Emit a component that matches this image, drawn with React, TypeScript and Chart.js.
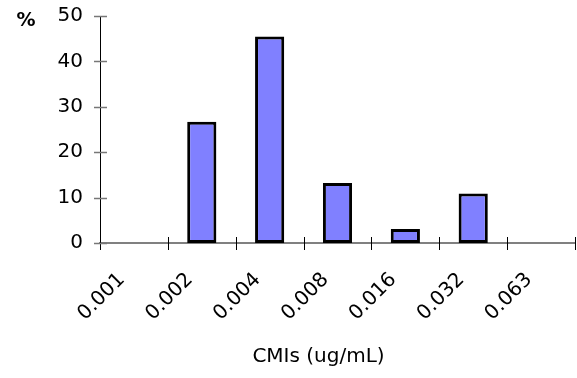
import React, { useEffect, useRef } from "react";
import { Chart, registerables } from "chart.js";

Chart.register(...registerables);

const categories = ["0.001", "0.002", "0.004", "0.008", "0.016", "0.032", "0.063"];
const percentValues = [0, 26.7, 45.5, 13.2, 3.1, 10.9, 0];
const yTicks = [0, 10, 20, 30, 40, 50];
const xTitle = "CMIs (ug/mL)";
const yUnit = "%";

const FONT = "'DejaVu Sans', sans-serif";

const crossTicks = {
  id: "crossTicks",
  afterDatasetsDraw(chart: any) {
    const { ctx, chartArea, scales } = chart;
    const x = scales.x;
    const y = scales.y;
    ctx.save();
    // x ticks at category boundaries
    ctx.strokeStyle = "#000";
    ctx.lineWidth = 1;
    for (let i = 0; i <= categories.length; i++) {
      const px = Math.round(x.getPixelForValue(i - 0.5)) + 0.5;
      ctx.beginPath();
      ctx.moveTo(px, chartArea.bottom - 6);
      ctx.lineTo(px, chartArea.bottom + 7);
      ctx.stroke();
    }
    // y ticks
    ctx.strokeStyle = "#777";
    ctx.lineWidth = 1.5;
    for (const v of yTicks) {
      const py = Math.round(y.getPixelForValue(v)) + 0.5;
      ctx.beginPath();
      ctx.moveTo(chartArea.left - 6, py);
      ctx.lineTo(chartArea.left + 7, py);
      ctx.stroke();
    }
    // unit label
    ctx.fillStyle = "#000";
    ctx.font = "bold 19px " + FONT;
    ctx.textAlign = "center";
    ctx.textBaseline = "middle";
    ctx.fillText(yUnit, chartArea.left - 74, y.getPixelForValue(50) + 5);
    // axis title
    ctx.font = "20px " + FONT;
    ctx.fillText(xTitle, chartArea.left + (chartArea.right - chartArea.left) * 0.46, 357);
    ctx.restore();
  },
};

export default function App() {
  const ref = useRef<HTMLCanvasElement | null>(null);
  useEffect(() => {
    if (!ref.current) return;
    const chart = new Chart(ref.current, {
      type: "bar",
      data: {
        labels: categories,
        datasets: [
          {
            data: percentValues,
            backgroundColor: "#8080FF",
            borderColor: "#000000",
            borderWidth: 3,
            borderSkipped: false,
            barPercentage: 0.43,
            categoryPercentage: 1,
          },
        ],
      },
      options: {
        responsive: true,
        maintainAspectRatio: false,
        animation: false,
        layout: { padding: { left: 0, top: 16, right: 2, bottom: 0 } },
        plugins: { legend: { display: false }, tooltip: { enabled: false } },
        scales: {
          x: {
            offset: true,
            grid: { display: false, drawTicks: false },
            border: { display: true, color: "#808080", width: 2 },
            ticks: {
              color: "#000",
              font: { family: FONT, size: 20 },
              minRotation: 45,
              maxRotation: 45,
              padding: 25,
              labelOffset: -12,
              autoSkip: false,
            },
            afterFit(s: any) {
              s.height = 135;
              s.paddingLeft = 0;
              s.paddingRight = 0;
            },
          },
          y: {
            min: 0,
            max: 50,
            grid: { display: false, drawTicks: false },
            border: { display: true, color: "#000", width: 1 },
            ticks: {
              stepSize: 10,
              color: "#000",
              font: { family: FONT, size: 20 },
              padding: 17,
            },
            afterFit(s: any) {
              s.width = 100;
              s.paddingTop = 0;
              s.paddingBottom = 0;
            },
          },
        },
      },
      plugins: [crossTicks],
    });
    return () => chart.destroy();
  }, []);
  return (
    <div style={{ position: "fixed", left: 0, top: 0, width: 577, height: 378, background: "#fff" }}>
      <canvas ref={ref} />
    </div>
  );
}
